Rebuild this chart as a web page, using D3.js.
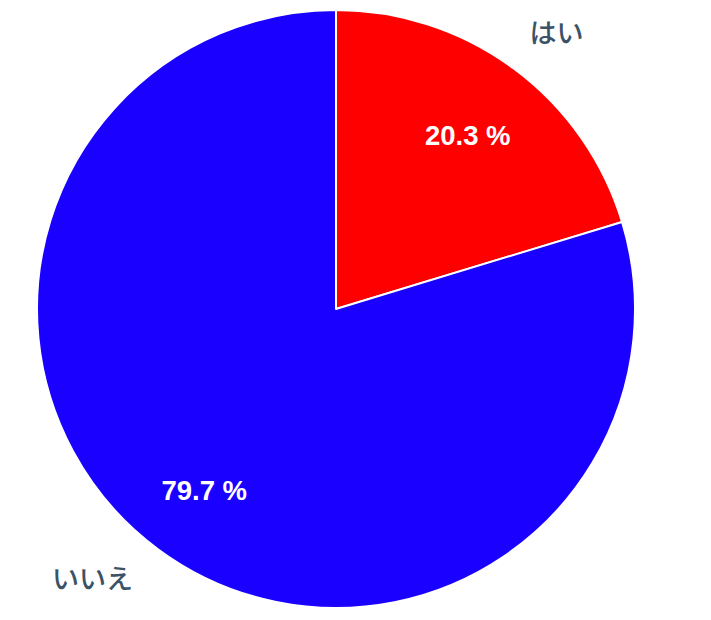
<!DOCTYPE html>
<html lang="ja">
<head>
<meta charset="utf-8">
<title>はい / いいえ</title>
<script src="https://d3js.org/d3.v7.min.js"></script>
<style>
  body { margin: 0; background: #fff; }
</style>
</head>
<body>
<script>
// data
var labels = ["はい", "いいえ"];
var values = [20.3, 79.7];
var colors = ["#ff0000", "#1a00ff"];

var w = 711, h = 620;
var cx = 336, cy = 309, r = 299;

var svg = d3.select("body").append("svg")
  .attr("width", w)
  .attr("height", h);

var g = svg.append("g").attr("transform", "translate(" + cx + "," + cy + ")");

var pie = d3.pie().sort(null).value(function(d) { return d; });
var arcs = pie(values);

var arc = d3.arc().innerRadius(0).outerRadius(r);
var pctArc = d3.arc().innerRadius(r * 0.74).outerRadius(r * 0.74);
var outArc = d3.arc().innerRadius(r * 1.2).outerRadius(r * 1.2);

g.selectAll("path")
  .data(arcs)
  .enter()
  .append("path")
  .attr("d", arc)
  .attr("fill", function(d, i) { return colors[i]; })
  .attr("stroke", "#fff")
  .attr("stroke-width", 2)
  .attr("stroke-linejoin", "round");

// percentage inside the slices
g.selectAll("text.pct")
  .data(arcs)
  .enter()
  .append("text")
  .attr("class", "pct")
  .attr("transform", function(d) {
    var c = pctArc.centroid(d);
    return "translate(" + c[0] + "," + (c[1] + 4) + ")";
  })
  .attr("text-anchor", "middle")
  .attr("dy", "0.35em")
  .style("font-family", "'Liberation Sans', Arial, sans-serif")
  .style("font-weight", "bold")
  .style("font-size", "27.5px")
  .style("fill", "#fff")
  .text(function(d, i) { return values[i].toFixed(1) + " %"; });

// category labels outside
var nudge = [[7, 13], [-30, -18]];
g.selectAll("text.lbl")
  .data(arcs)
  .enter()
  .append("text")
  .attr("class", "lbl")
  .attr("transform", function(d, i) {
    var c = outArc.centroid(d);
    return "translate(" + (c[0] + nudge[i][0]) + "," + (c[1] + nudge[i][1]) + ")";
  })
  .attr("text-anchor", "middle")
  .attr("dy", "0.35em")
  .style("font-family", "'Noto Sans CJK JP', sans-serif")
  .style("font-weight", "500")
  .style("font-size", "27px")
  .style("fill", "#3c5266")
  .text(function(d, i) { return labels[i]; });
</script>
</body>
</html>
